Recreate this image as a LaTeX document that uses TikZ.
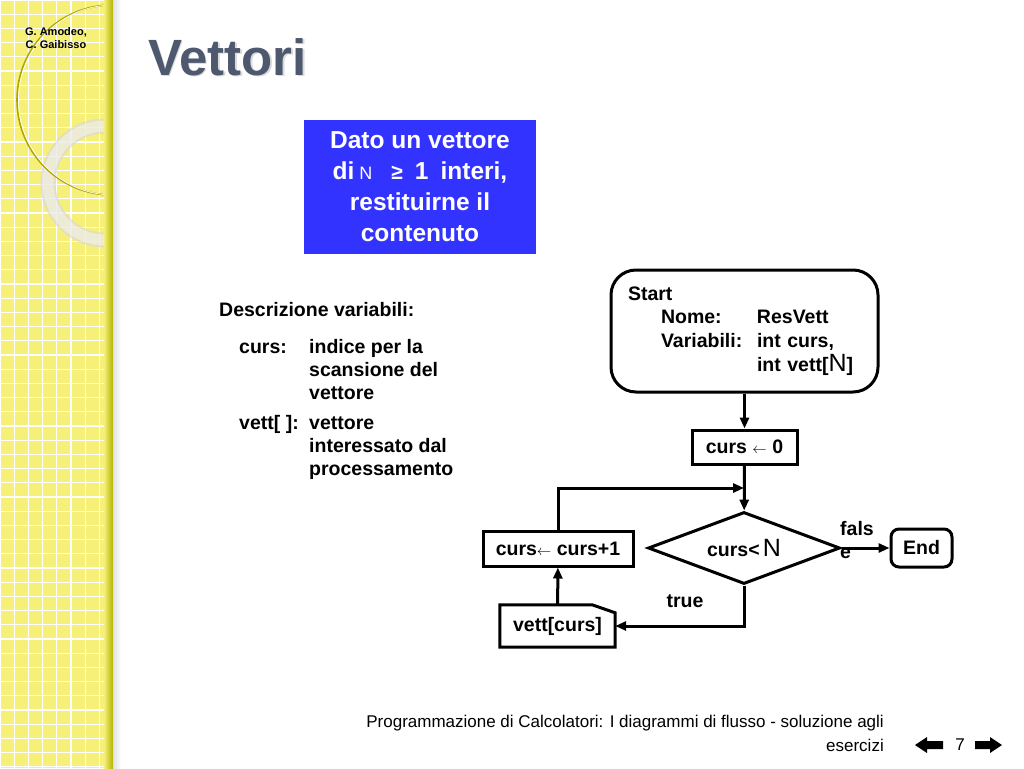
\documentclass[tikz,border=0pt]{standalone}
\usepackage{fontspec}
\setmainfont{Liberation Sans}
\usetikzlibrary{shapes.geometric,arrows.meta}
\definecolor{sideyellow}{RGB}{246,240,120}
\definecolor{titlegray}{RGB}{78,88,110}
\definecolor{taskblue}{RGB}{51,51,255}
\newcommand{\bigN}{{\fontsize{25}{25}\selectfont\mdseries N}}
\newcommand{\assign}{{\fontsize{15}{15}\selectfont$\leftarrow$}}

\begin{document}
\begin{tikzpicture}[x=1pt,y=-1pt,
  flow/.style={font=\bfseries\fontsize{19.5}{23.5}\selectfont},
  stepbox/.style={flow, draw, line width=3pt, inner sep=0pt},
  link/.style={line width=3pt, -{Triangle[length=11pt,width=9pt]}}]
\useasboundingbox (0,0) rectangle (1024,768);

% Sidebar with grid and rings
\begin{scope}
  \clip (0,0) rectangle (113,768);
  \fill[sideyellow] (0,0) rectangle (113,768);
  \foreach \k in {0,...,8}
    \draw[white, line width=1.3pt] (\k*14.2,0) -- (\k*14.2,768);
  \foreach \k in {0,...,54}
    \draw[white, line width=1.3pt] (0,\k*14.2) -- (113,\k*14.2);
  \draw[gray!30, opacity=0.7, line width=15pt] (105,183) circle (57);
  \draw[white, opacity=0.4, line width=11pt] (105,183) circle (57);
  \draw[olive!70!yellow, line width=1.6pt] (112,100) circle (95);
  \draw[white, line width=0.7pt] (113.5,100) circle (95);
  \shade[left color=sideyellow, right color=olive!60!yellow] (104,0) rectangle (113,768);
\end{scope}
\shade[left color=black!12, right color=white] (113,0) rectangle (121,768);

\node[font=\bfseries\fontsize{11}{12.5}\selectfont, align=center] (authors) at (56,38)
  {G. Amodeo,\\C. Gaibisso};

% Title
\node[anchor=base west, inner sep=0pt, font=\bfseries\fontsize{51}{51}\selectfont,
  black!40, opacity=0.35] (titleshadow) at (149.5,77) {Vettori};
\node[anchor=base west, inner sep=0pt, font=\bfseries\fontsize{51}{51}\selectfont,
  titlegray] (title) at (148,75) {Vettori};

% Task
\node[fill=taskblue, text=white, font=\bfseries\fontsize{24.5}{31}\selectfont,
  align=center, minimum width=232pt, minimum height=134pt, inner sep=0pt] (task) at (420,187)
  {Dato un vettore\\
   di\hspace{5pt}{\fontsize{18}{18}\selectfont\mdseries N}\hspace{19pt}{\fontsize{21}{21}\selectfont ≥}\hspace{12pt}1\hspace{12pt}interi,\\
   restituirne il\\contenuto};

% Variables
\node[anchor=base west, inner sep=0pt, font=\bfseries\fontsize{19.5}{23}\selectfont] (desc) at (219,316)
  {Descrizione variabili:};
\node[anchor=north west, inner sep=0pt, font=\bfseries\fontsize{19.5}{23}\selectfont] (vars) at (239,337)
  {\begin{tabular}{@{}p{70pt}@{}l@{}}
    curs: & indice per la\\
          & scansione del\\
          & vettore\\[7pt]
    vett[ ]: & vettore\\
          & interessato dal\\
          & processamento
  \end{tabular}};

% Flow chart
\node[stepbox, rounded corners=25pt, align=left, text width=233pt, inner xsep=17pt,
  minimum height=122pt] (start) at (744.5,331)
  {Start\\
   \hspace*{33pt}\makebox[96pt][l]{Nome:}ResVett\\
   \hspace*{33pt}\makebox[96pt][l]{Variabili:}int curs,\\[1pt]
   \hspace*{129pt}int vett[\bigN]};
\node[stepbox, minimum width=105pt, minimum height=34pt] (init) at (744.5,447) {curs \assign\ 0};
\node[stepbox, diamond, aspect=2.67, minimum width=192pt, minimum height=72pt] (cond) at (744,548)
  {curs<\,\bigN};
\node[stepbox, rounded corners=8pt, minimum width=61pt, minimum height=38pt] (end) at (921.5,548) {End};
\node[stepbox, minimum width=150pt, minimum height=35pt] (incr) at (558,548.5) {curs\assign\ curs+1};
\node[flow, minimum width=115pt, minimum height=42pt, inner sep=0pt] (vett) at (557.5,626) {vett[curs]};
\draw[line width=3pt, line join=miter]
  (vett.south west) -- (vett.north west) -- ([xshift=-23pt]vett.north east)
  -- ([yshift=-8pt]vett.north east) -- (vett.south east) -- cycle;
\coordinate (join) at (744,488);

\draw[link] (start) -- (init);
\draw[link] (init) -- (cond);
\draw[link] (cond.east) -- (end.west);
\draw[link] (cond.south) |- (vett.east);
\draw[link] (vett) -- (incr);
\draw[link] (incr.north) |- (join);

\node[flow, anchor=west, align=left, inner sep=0pt] (falselbl) at (840,540) {fals\\e};
\node[flow] (truelbl) at (685,601) {true};

% Footer
\node[anchor=east, align=right, inner sep=0pt, font=\fontsize{17}{24}\selectfont] (footer) at (884,733)
  {Programmazione di Calcolatori: I diagrammi di flusso - soluzione agli\\esercizi};
\fill (915,745) -- (927,737) -- (927,741) -- (943,741) -- (943,749) -- (927,749) -- (927,753) -- cycle;
\node[font=\fontsize{17}{17}\selectfont] (page) at (960,745) {7};
\fill (1002,745) -- (990,737) -- (990,741) -- (975,741) -- (975,749) -- (990,749) -- (990,753) -- cycle;
\end{tikzpicture}
\end{document}
